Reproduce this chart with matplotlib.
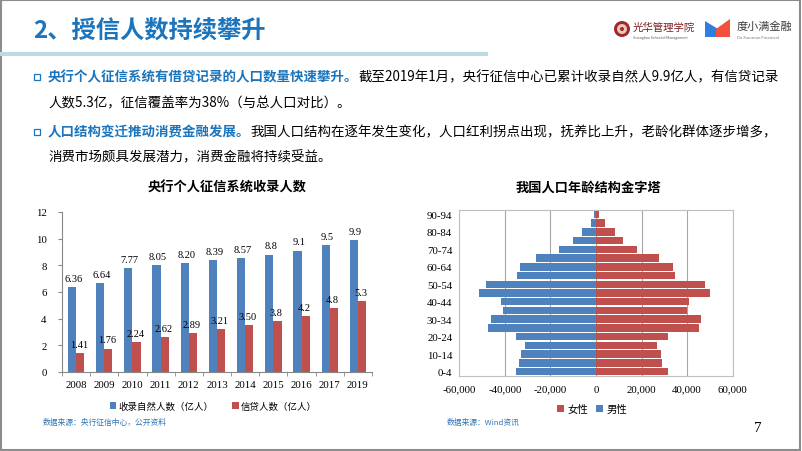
import matplotlib
matplotlib.use("Agg")
import matplotlib.pyplot as plt
import matplotlib.patches as mpatches
import numpy as np

plt.rcParams['font.family'] = ['Noto Sans CJK SC', 'DejaVu Sans']

# ---------------- data ----------------
years = ['2008', '2009', '2010', '2011', '2012', '2013', '2014', '2015', '2016', '2017', '2019']
total_people = [6.36, 6.64, 7.77, 8.05, 8.20, 8.39, 8.57, 8.8, 9.1, 9.5, 9.9]
total_labels = ['6.36', '6.64', '7.77', '8.05', '8.20', '8.39', '8.57', '8.8', '9.1', '9.5', '9.9']
credit_people = [1.41, 1.76, 2.24, 2.62, 2.89, 3.21, 3.50, 3.8, 4.2, 4.8, 5.3]
credit_labels = ['1.41', '1.76', '2.24', '2.62', '2.89', '3.21', '3.50', '3.8', '4.2', '4.8', '5.3']

age_groups = ['0-4', '5-9', '10-14', '15-19', '20-24', '25-29', '30-34', '35-39', '40-44',
              '45-49', '50-54', '55-59', '60-64', '65-69', '70-74', '75-79', '80-84', '85-89', '90-94']
male = [-35300, -33700, -33100, -31100, -35300, -47200, -46300, -40900, -41900,
        -51500, -48300, -34500, -33400, -26300, -16400, -10100, -6000, -2200, -700]
female = [31400, 29100, 28500, 26700, 31700, 45100, 46100, 40100, 40900,
          50100, 47700, 34600, 33900, 27700, 17800, 11800, 8300, 3900, 1300]
pyr_xticks = [-60000, -40000, -20000, 0, 20000, 40000, 60000]

BLUE = '#4F81BD'
RED = '#C0504D'
TITLE_BLUE = '#1C75BC'
SRC_BLUE = '#2E75B6'
SERIF = 'Liberation Serif'

W, H = 802, 452
fig = plt.figure(figsize=(W / 100, H / 100), dpi=100)
fig.patch.set_facecolor('white')

def fx(x):
    return x / W

def fy(y):
    return 1 - y / H

# slide border
fig.add_artist(mpatches.Rectangle((0.001, 0.002), 0.997, 0.995, transform=fig.transFigure,
                                  fill=False, edgecolor='#8C8C8C', linewidth=1.5))

# title
fig.text(fx(33), fy(31), '2、授信人数持续攀升', fontsize=17.5, fontweight='bold',
         color=TITLE_BLUE, va='center', ha='left')
# separator band
fig.add_artist(mpatches.Rectangle((0, fy(57)), fx(488), 4 / H, transform=fig.transFigure,
                                  facecolor='#BCDCE3', edgecolor='none'))

# logos (approximation)
fig.add_artist(mpatches.Ellipse((fx(622), fy(30)), 16 / W, 16 / H, transform=fig.transFigure,
                                facecolor='#A3272E', edgecolor='none'))
fig.add_artist(mpatches.Ellipse((fx(622), fy(30)), 10 / W, 10 / H, transform=fig.transFigure,
                                facecolor='#E8C9B5', edgecolor='none'))
fig.add_artist(mpatches.Ellipse((fx(622), fy(30)), 4 / W, 4 / H, transform=fig.transFigure,
                                facecolor='#A3272E', edgecolor='none'))
fig.text(fx(633), fy(28), '光华管理学院', fontsize=7.5, color='#7A1E22', va='center', ha='left')
fig.text(fx(633), fy(38), 'Guanghua School of Management', fontsize=2.5, color='#555555',
         va='center', ha='left')
fig.add_artist(mpatches.Polygon([[fx(705), fy(38)], [fx(705), fy(22)], [fx(718), fy(30)], [fx(718), fy(38)]],
                                closed=True, transform=fig.transFigure, facecolor='#2F7DE1', edgecolor='none'))
fig.add_artist(mpatches.Polygon([[fx(716), fy(38)], [fx(716), fy(30)], [fx(730), fy(20)], [fx(730), fy(38)]],
                                closed=True, transform=fig.transFigure, facecolor='#F2503B', edgecolor='none'))
fig.text(fx(737), fy(27), '度小满金融', fontsize=8, color='#3A3A3A', va='center', ha='left')
fig.text(fx(737), fy(38), 'Du Xiaoman Financial', fontsize=3, color='#777777', va='center', ha='left')

# bullet text
renderer = fig.canvas.get_renderer()
BODY = 9.7

def bullet(y):
    fig.add_artist(mpatches.Rectangle((fx(34), fy(y + 3.5)), 6 / W, 6 / H, transform=fig.transFigure,
                                      fill=False, edgecolor=TITLE_BLUE, linewidth=0.9))

def rich_line(y, parts, x0=48):
    x = x0
    for txt, bold, col in parts:
        t = fig.text(fx(x), fy(y), txt, fontsize=BODY, fontweight='bold' if bold else 'normal',
                     color=col, va='center', ha='left')
        bb = t.get_window_extent(renderer)
        x += bb.width

bullet(77)
rich_line(77, [('央行个人征信系统有借贷记录的人口数量快速攀升。', True, TITLE_BLUE),
               ('截至2019年1月，央行征信中心已累计收录自然人9.9亿人，有信贷记录', False, 'black')])
rich_line(103, [('人数5.3亿，征信覆盖率为38%（与总人口对比）。', False, 'black')])
bullet(132)
rich_line(132, [('人口结构变迁推动消费金融发展。', True, TITLE_BLUE),
                ('我国人口结构在逐年发生变化，人口红利拐点出现，抚养比上升，老龄化群体逐步增多，', False, 'black')])
rich_line(157, [('消费市场颇具发展潜力，消费金融将持续受益。', False, 'black')])

# ---------------- bar chart ----------------
ax1 = fig.add_axes([fx(62), fy(373), (372 - 62) / W, (373 - 213) / H])
x = np.arange(len(years))
bw = 0.29
b1 = ax1.bar(x - bw / 2, total_people, bw, color=BLUE, label='收录自然人数（亿人）')
b2 = ax1.bar(x + bw / 2, credit_people, bw, color=RED, label='信贷人数（亿人）')
for rect, lab in zip(b1, total_labels):
    ax1.annotate(lab, (rect.get_x() + rect.get_width() / 2 + 0.05, rect.get_height()),
                 xytext=(0, 3), textcoords='offset points', ha='center', va='bottom',
                 fontsize=7.5, family=SERIF)
for rect, lab in zip(b2, credit_labels):
    ax1.annotate(lab, (rect.get_x() + rect.get_width() / 2 - 0.05, rect.get_height()),
                 xytext=(0, 3), textcoords='offset points', ha='center', va='bottom',
                 fontsize=7.5, family=SERIF)
ax1.set_xlim(-0.5, len(years) - 0.5)
ax1.set_ylim(0, 12)
ax1.set_yticks(range(0, 13, 2))
ax1.set_xticks(x)
ax1.set_xticklabels(years)
ax1.set_xticks(np.arange(-0.5, len(years), 1), minor=True)
ax1.tick_params(axis='x', which='major', length=0, pad=6)
ax1.tick_params(axis='x', which='minor', length=3, color='#888888')
ax1.tick_params(axis='y', length=3, color='#888888', pad=8)
for lab in ax1.get_xticklabels() + ax1.get_yticklabels():
    lab.set_family(SERIF)
    lab.set_fontsize(7.8)
for s in ['top', 'right']:
    ax1.spines[s].set_visible(False)
for s in ['left', 'bottom']:
    ax1.spines[s].set_color('#888888')
    ax1.spines[s].set_linewidth(0.8)
fig.text(fx(227), fy(188), '央行个人征信系统收录人数', fontsize=9.5, fontweight='bold',
         ha='center', va='center')
ax1.legend(loc='center', bbox_to_anchor=(fx(213), fy(407)), bbox_transform=fig.transFigure,
           ncol=2, frameon=False, fontsize=6.8, handlelength=0.7, handleheight=0.7,
           handletextpad=0.2, columnspacing=2.0)
fig.text(fx(43), fy(423), '数据来源：央行征信中心，公开资料', fontsize=5.6, color=SRC_BLUE,
         ha='left', va='center')

# ---------------- pyramid ----------------
ax2 = fig.add_axes([fx(459.3), fy(377.3), (732.7 - 459.3) / W, (377.3 - 210.7) / H])
y = np.arange(len(age_groups))
ax2.barh(y, female, height=0.86, color=RED, label='女性', left=0, zorder=3)
ax2.barh(y, male, height=0.86, color=BLUE, label='男性', zorder=3)
ax2.set_xlim(-60000, 60000)
ax2.set_ylim(-0.55, len(age_groups) - 0.45)
ax2.set_xticks(pyr_xticks)
ax2.set_xticklabels([f'{v:,}' for v in pyr_xticks])
ax2.set_yticks(y[::2])
ax2.set_yticklabels(age_groups[::2])
ax2.xaxis.grid(True, color='#A6A6A6', linewidth=0.8, zorder=0)
ax2.tick_params(axis='both', length=0, pad=5)
ax2.tick_params(axis='x', pad=6)
for lab in ax2.get_xticklabels() + ax2.get_yticklabels():
    lab.set_family(SERIF)
    lab.set_fontsize(7.8)
for s in ax2.spines.values():
    s.set_color('#BFBFBF')
    s.set_linewidth(0.8)
fig.text(fx(588), fy(188), '我国人口年龄结构金字塔', fontsize=9.5, fontweight='bold',
         ha='center', va='center')
ax2.legend(loc='center', bbox_to_anchor=(fx(592), fy(410)), bbox_transform=fig.transFigure,
           ncol=2, frameon=False, fontsize=7.5, handlelength=0.7, handleheight=0.7,
           handletextpad=0.3, columnspacing=0.8)
fig.text(fx(447), fy(423), '数据来源：Wind资讯', fontsize=5.6, color=SRC_BLUE,
         ha='left', va='center')

fig.text(fx(758), fy(429), '7', fontsize=11, family=SERIF, ha='center', va='center')

fig.savefig('out.png', dpi=100)
